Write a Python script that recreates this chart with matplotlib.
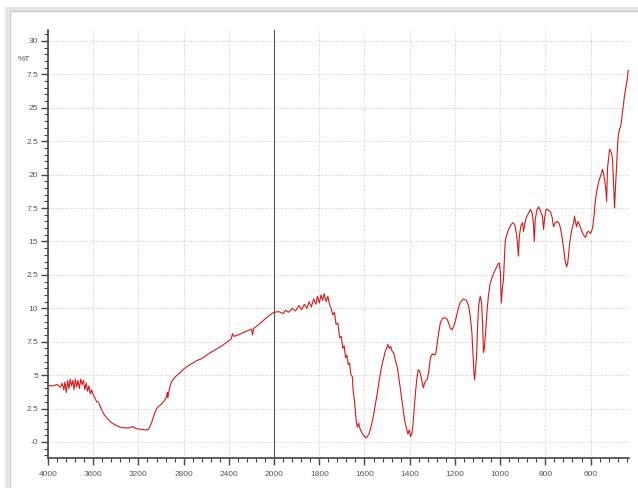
import numpy as np
import matplotlib
matplotlib.use("Agg")
import matplotlib.pyplot as plt
from matplotlib.patches import Rectangle
from matplotlib.ticker import FixedLocator, MultipleLocator

# IR spectrum: wavenumber (cm-1) and %T
wavenumber = [
    4000, 3960, 3920, 3890, 3875, 3860, 3850, 3838, 3826, 3815, 3803, 3792,
    3780, 3770, 3758, 3746, 3735, 3722, 3710, 3698, 3686, 3674, 3662, 3650,
    3638, 3626, 3614, 3600, 3585, 3570, 3555, 3540, 3520, 3500, 3470, 3440,
    3400, 3360, 3320, 3280, 3250, 3220, 3180, 3140, 3110, 3090, 3070, 3050,
    3030, 3000, 2970, 2950, 2945, 2940, 2920, 2900, 2870, 2830, 2800, 2760,
    2720, 2680, 2650, 2620, 2580, 2540, 2500, 2460, 2420, 2380, 2368, 2355,
    2320, 2280, 2240, 2200, 2190, 2180, 2140, 2100, 2060, 2020, 2000,
    1980, 1960, 1950, 1935, 1920, 1905, 1890, 1878, 1866, 1855, 1845, 1835,
    1825, 1815, 1808, 1800, 1792, 1785, 1778, 1770, 1762, 1755, 1748, 1740,
    1733, 1726, 1718, 1710, 1703, 1696, 1690, 1684, 1678, 1672, 1666, 1660,
    1654, 1650, 1645, 1640, 1636, 1632, 1626, 1620, 1612, 1600, 1592, 1580,
    1570, 1560, 1550, 1542, 1535, 1528, 1522, 1515, 1508, 1502, 1497, 1490,
    1484, 1478, 1470, 1462, 1455, 1448, 1440, 1432, 1424, 1416, 1408, 1402,
    1396, 1390, 1386, 1380, 1374, 1368, 1362, 1356, 1350, 1344, 1340, 1334,
    1328, 1322, 1316, 1308, 1300, 1292, 1285, 1275, 1265, 1255, 1245, 1235,
    1228, 1220, 1212, 1204, 1196, 1185, 1176, 1163, 1150, 1140, 1132, 1125,
    1120, 1116, 1113, 1109, 1104, 1100, 1095, 1088, 1082, 1077, 1074, 1070,
    1065, 1058, 1052, 1045, 1034, 1021, 1010, 1004, 999, 995, 990, 985,
    980, 977, 963, 950, 942, 935, 928, 924, 919, 915, 908, 901,
    897, 890, 884, 875, 866, 858, 853, 849, 845, 838, 830, 822,
    813, 808, 803, 797, 790, 777, 770, 764, 757, 746, 738, 733,
    726, 720, 713, 706, 701, 698, 692, 686, 680, 675, 671, 667,
    662, 656, 650, 644, 635, 628, 622, 615, 609, 600, 591, 585,
    578, 571, 565, 556, 547, 542, 538, 533, 529, 525, 520, 516,
    511, 507, 503, 498, 494, 490, 485, 480, 476, 470, 467, 462,
    458, 454, 450, 446, 441, 437, 433,
]
transmittance = [
    4.2, 4.2, 4.3, 4.1, 4.4, 3.9, 4.5, 3.7, 4.6, 4.0, 4.7, 4.2,
    4.6, 3.9, 4.7, 4.1, 4.6, 4.0, 4.7, 4.3, 4.6, 3.9, 4.4, 3.8,
    4.2, 3.6, 3.9, 3.5, 3.3, 3.0, 3.0, 2.7, 2.3, 2.0, 1.7, 1.45,
    1.25, 1.1, 1.05, 1.05, 1.15, 1.0, 0.95, 0.9, 0.95, 1.3, 1.8, 2.3,
    2.6, 2.8, 3.1, 3.4, 3.7, 3.3, 4.2, 4.6, 4.9, 5.2, 5.45, 5.7,
    5.9, 6.1, 6.2, 6.35, 6.6, 6.8, 7.0, 7.2, 7.45, 7.7, 8.1, 7.9,
    8.0, 8.15, 8.3, 8.45, 8.0, 8.5, 8.75, 9.05, 9.35, 9.6, 9.7,
    9.75, 9.6, 9.85, 9.7, 10.0, 9.8, 10.2, 9.9, 10.3, 10.0, 10.5, 10.1,
    10.7, 10.3, 10.9, 10.4, 11.0, 10.6, 11.1, 10.5, 10.9, 10.3, 10.0, 9.5,
    9.7, 8.8, 8.9, 7.8, 7.9, 7.0, 7.2, 6.3, 6.5, 5.8, 5.9, 5.0,
    4.9, 3.8, 3.2, 2.2, 1.5, 1.1, 1.4, 1.0, 0.7, 0.4, 0.3, 0.6,
    1.2, 2.0, 3.0, 3.8, 4.6, 5.3, 5.8, 6.3, 6.8, 7.0, 7.3, 7.0,
    7.15, 6.8, 6.6, 6.0, 5.6, 4.8, 3.8, 2.8, 1.8, 1.1, 0.6, 0.9,
    0.4, 0.7, 1.2, 2.5, 3.8, 4.8, 5.4, 5.3, 4.9, 4.4, 4.05, 4.4,
    4.6, 4.7, 5.3, 6.3, 6.6, 6.5, 6.6, 7.8, 8.9, 9.25, 9.3, 9.2,
    8.9, 8.5, 8.4, 8.7, 9.2, 10.0, 10.45, 10.7, 10.6, 10.2, 9.4, 8.2,
    6.6, 5.2, 4.65, 5.4, 6.5, 8.6, 10.2, 10.9, 10.4, 8.6, 6.7, 7.0,
    8.0, 9.8, 10.9, 11.8, 12.4, 12.9, 13.3, 13.4, 12.7, 10.4, 11.5, 12.2,
    14.2, 15.1, 15.9, 16.3, 16.4, 16.2, 15.6, 15.0, 13.9, 15.4, 16.2, 16.4,
    15.75, 16.4, 16.8, 17.1, 17.4, 17.1, 16.4, 15.0, 16.6, 17.3, 17.6, 17.3,
    16.9, 15.9, 16.8, 17.4, 17.4, 17.2, 16.8, 16.1, 16.4, 16.5, 16.3, 16.0,
    15.3, 14.6, 13.6, 13.1, 13.4, 13.9, 14.9, 15.6, 16.1, 16.4, 16.9, 16.5,
    16.1, 16.5, 16.3, 16.0, 15.6, 15.4, 15.3, 15.7, 15.75, 15.6, 16.0, 16.9,
    18.2, 18.9, 19.4, 19.9, 20.4, 20.0, 19.6, 19.0, 18.0, 20.5, 21.3, 21.9,
    21.75, 21.6, 21.2, 19.1, 17.5, 19.0, 20.6, 22.4, 23.1, 23.5, 23.6, 24.2,
    24.8, 25.3, 25.9, 26.3, 26.8, 27.3, 27.8,
]

x_major = [4000, 3600, 3200, 2800, 2400, 2000, 1800, 1600, 1400, 1200, 1000, 800, 600]
x_labels = ["4000", "3600", "3200", "2800", "2400", "2000", "1800", "1600",
            "1400", "1200", "1000", "800", "600"]
y_major = [0, 2.5, 5, 7.5, 10, 12.5, 15, 17.5, 20, 22.5, 25, 27.5, 30]
y_labels = ["-0", "2.5", "5", "7.5", "10", "2.5", "15", "7.5", "20", "2.5",
            "25", "7.5", "30"]


# wavenumber axis is compressed by 2 above 2000 cm-1
def fwd(w):
    w = np.asarray(w, dtype=float)
    return np.where(w >= 2000, 2000 + (w - 2000) / 2.0, w)


def inv(u):
    u = np.asarray(u, dtype=float)
    return np.where(u >= 2000, 2000 + (u - 2000) * 2.0, u)


plt.rcParams['font.family'] = ['Liberation Sans', 'DejaVu Sans']

fig = plt.figure(figsize=(6.38, 4.88), dpi=100)

# page frame with a soft shadow
fig.patches.append(Rectangle((7 / 638, -0.1), 1.2, (488 - 9) / 488 + 0.1,
                             transform=fig.transFigure, fill=False,
                             edgecolor='#e6e6e6', lw=3, zorder=0))
fig.patches.append(Rectangle((10 / 638, -0.1), 1.2, (488 - 11) / 488 + 0.1,
                             transform=fig.transFigure, fill=False,
                             edgecolor='#c8c8c8', lw=1.0, zorder=0))

ax = fig.add_axes([48 / 638, 30 / 488, (629 - 48) / 638, (458 - 30) / 488])
ax.set_xscale('function', functions=(fwd, inv))
ax.set_xlim(4000, 430)
ax.set_ylim(-1.2, 30.82)

ax.plot(wavenumber, transmittance, color='#d21a1a', lw=0.8, zorder=3)

ax.xaxis.set_major_locator(FixedLocator(x_major))
ax.set_xticklabels(x_labels)
minor_x = list(range(4000, 2000, -80)) + list(range(2000, 430, -40))
ax.xaxis.set_minor_locator(FixedLocator(minor_x))
ax.set_yticks(y_major)
ax.set_yticklabels(y_labels)
ax.yaxis.set_minor_locator(MultipleLocator(0.5))

ax.grid(True, which='major', linestyle=(0, (1, 2)), color='#b8b8b8', lw=0.6)
ax.axvline(2000, color='#555555', lw=0.8, zorder=2)

for side in ('top', 'right'):
    ax.spines[side].set_visible(False)
for side in ('left', 'bottom'):
    ax.spines[side].set_color('#444444')
    ax.spines[side].set_linewidth(1.2)

ax.tick_params(which='major', direction='out', length=5, width=1.0,
               color='#444444', labelsize=6, labelcolor='#555555', pad=2)
ax.tick_params(which='minor', direction='out', length=3, width=0.8,
               color='#444444')
ax.tick_params(axis='x', which='major', pad=4)

ax.text(-0.03, 28.65, "%T", transform=ax.get_yaxis_transform(),
        ha='right', va='center', fontsize=6, color='#555555')

fig.savefig("out.png", dpi=100)
